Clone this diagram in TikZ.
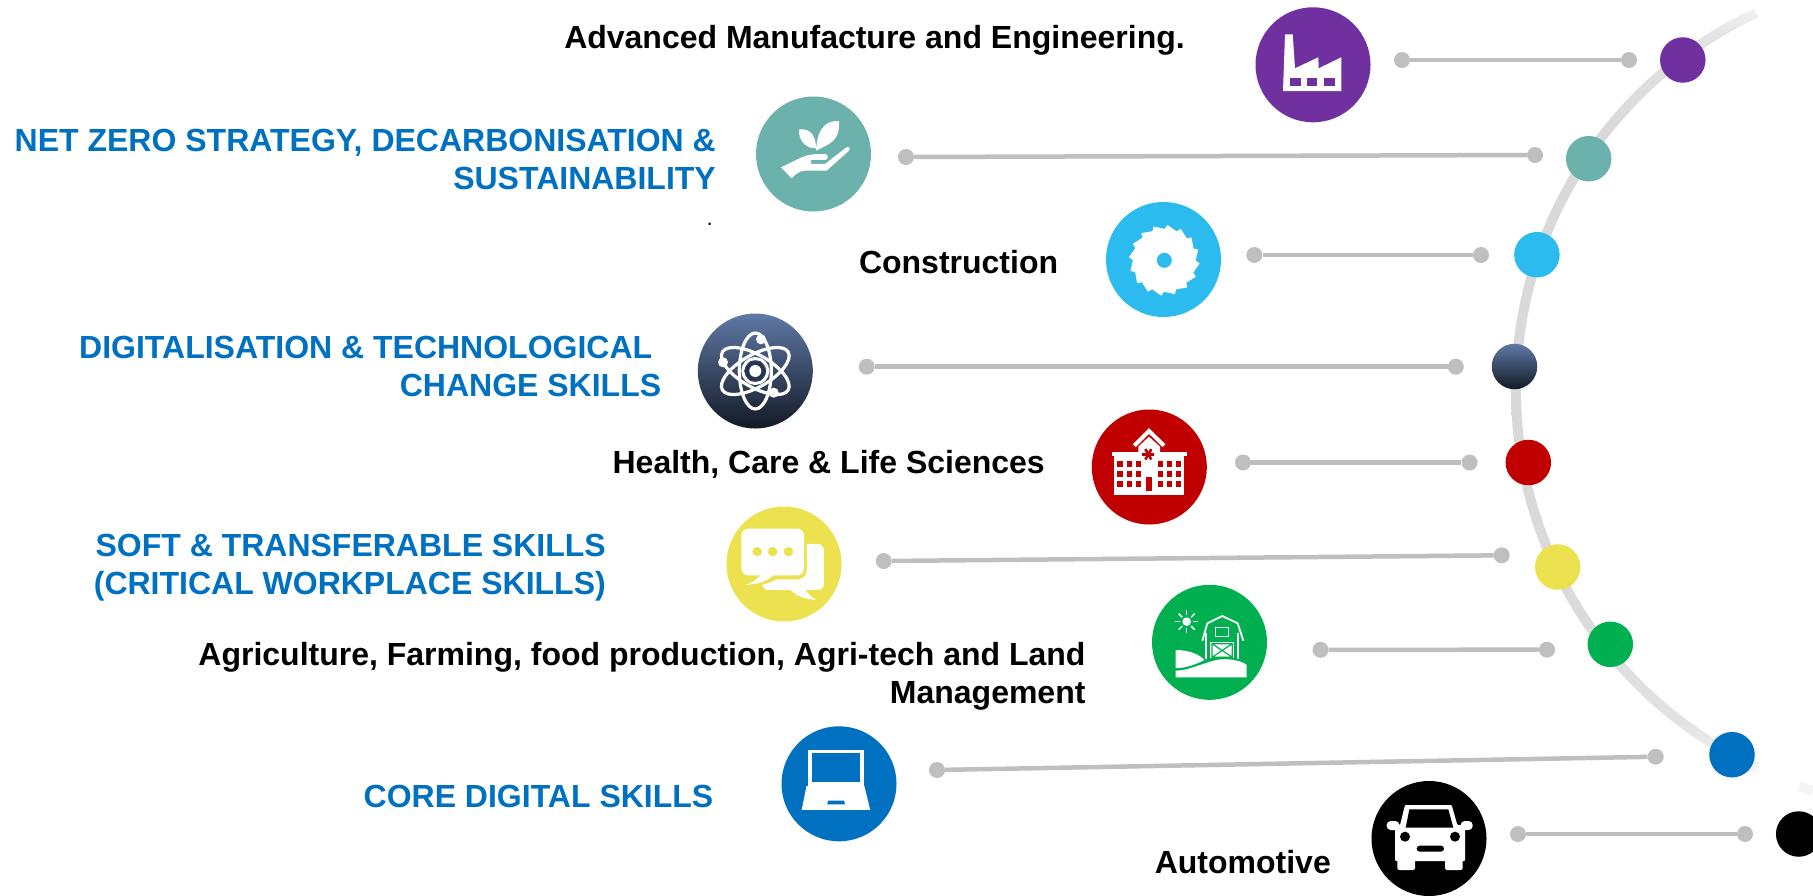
\documentclass[tikz,border=0pt]{standalone}
\usepackage{fontspec}
\setmainfont{Liberation Sans}

\definecolor{iconpurple}{HTML}{7030A0}
\definecolor{iconteal}{HTML}{6CB2AC}
\definecolor{iconsky}{HTML}{2BBBEF}
\definecolor{iconred}{HTML}{C00000}
\definecolor{iconyellow}{HTML}{ECE24F}
\definecolor{icongreen}{HTML}{00B050}
\definecolor{iconblue}{HTML}{0070C0}
\definecolor{navytop}{HTML}{5F79A6}
\definecolor{navymid}{HTML}{27354F}
\definecolor{navylow}{HTML}{131A26}
\definecolor{linkgrey}{HTML}{BFBFBF}

\pgfdeclareverticalshading{trackfade}{100bp}{
  color(0bp)=(white!96!black); color(27.3bp)=(white!96!black); color(30.2bp)=(white!89!black);
  color(36.2bp)=(white!86!black); color(44.6bp)=(white!85!black); color(65bp)=(white!85!black);
  color(71bp)=(white!89!black); color(72.7bp)=(white!95!black); color(100bp)=(white!95!black)}

\tikzset{
  bigdisc/.style={circle,minimum size=115pt,inner sep=0pt},
  trackdot/.style={circle,minimum size=45.5pt,inner sep=0pt},
  linkdot/.style={circle,fill=linkgrey,minimum size=16pt,inner sep=0pt},
  linkline/.style={draw=linkgrey,line width=4.5pt},
  skilltext/.style={anchor=base east,align=right,inner sep=0pt,text=iconblue,font=\fontsize{32}{37.8}\selectfont\bfseries},
  sectortext/.style={skilltext,text=black},
  navyshade/.style={top color=navytop,middle color=navymid,bottom color=navylow}
}

\begin{document}
\begin{tikzpicture}[x=1pt,y=-1pt]
  \useasboundingbox (0,0) rectangle (1813,895);
  \clip (0,0) rectangle (1813,895);

  % track
  \begin{scope}
    \clip (1932,390) -- +(114.8:600) -- +(180:900) -- +(245:600) -- cycle;
    \shade[shading=trackfade,even odd rule] (1932,390) circle (421) (1932,390) circle (411);
  \end{scope}
  \draw[white!96!black,line width=10pt] (1799,786) -- (1813,791);

  % dots on the track
  \node[trackdot,fill=iconpurple] (factorydot) at (1682.8,60) {};
  \node[trackdot,fill=iconteal] (plantdot) at (1588.7,158.7) {};
  \node[trackdot,fill=iconsky] (sawdot) at (1536.9,254.7) {};
  \node[trackdot,navyshade] (atomdot) at (1514.5,366.5) {};
  \node[trackdot,fill=iconred] (hospitaldot) at (1528.3,462.5) {};
  \node[trackdot,fill=iconyellow] (chatdot) at (1557.7,567) {};
  \node[trackdot,fill=icongreen] (barndot) at (1610.3,644.3) {};
  \node[trackdot,fill=iconblue] (laptopdot) at (1732,754.7) {};
  \node[trackdot,fill=black] (cardot) at (1798.7,834) {};

  % links
  \node[linkdot] (factoryL) at (1402,60) {};
  \node[linkdot] (factoryR) at (1629,60) {};
  \draw[linkline] (factoryL) -- (factoryR);
  \node[linkdot] (plantL) at (906,157) {};
  \node[linkdot] (plantR) at (1535,155) {};
  \draw[linkline] (plantL) -- (plantR);
  \node[linkdot] (sawL) at (1254.3,255) {};
  \node[linkdot] (sawR) at (1481,255) {};
  \draw[linkline] (sawL) -- (sawR);
  \node[linkdot] (atomL) at (866.7,366.7) {};
  \node[linkdot] (atomR) at (1455.8,366.7) {};
  \draw[linkline] (atomL) -- (atomR);
  \node[linkdot] (hospitalL) at (1243,462.5) {};
  \node[linkdot] (hospitalR) at (1469.6,462.5) {};
  \draw[linkline] (hospitalL) -- (hospitalR);
  \node[linkdot] (chatL) at (883.7,561) {};
  \node[linkdot] (chatR) at (1501.7,555.3) {};
  \draw[linkline] (chatL) -- (chatR);
  \node[linkdot] (barnL) at (1320.5,649.8) {};
  \node[linkdot] (barnR) at (1547,649.7) {};
  \draw[linkline] (barnL) -- (barnR);
  \node[linkdot] (laptopL) at (937,770) {};
  \node[linkdot] (laptopR) at (1655.7,756.7) {};
  \draw[linkline] (laptopL) -- (laptopR);
  \node[linkdot] (carL) at (1518,834) {};
  \node[linkdot] (carR) at (1745,834) {};
  \draw[linkline] (carL) -- (carR);

  % big discs
  \node[bigdisc,fill=iconpurple] (factory) at (1313,64.8) {};
  \node[bigdisc,fill=iconteal] (plant) at (813.5,154) {};
  \node[bigdisc,fill=iconsky] (saw) at (1163.5,259.5) {};
  \node[bigdisc,navyshade] (atom) at (755.3,371) {};
  \node[bigdisc,fill=iconred] (hospital) at (1149.3,467) {};
  \node[bigdisc,fill=iconyellow] (chat) at (784,564) {};
  \node[bigdisc,fill=icongreen] (barn) at (1209.5,642.3) {};
  \node[bigdisc,fill=iconblue] (laptop) at (839,783.8) {};
  \node[bigdisc,fill=black] (car) at (1429,838.5) {};

  % factory icon
  \fill[white] (1285,34.3) -- (1292.7,34.3) -- (1295,68.3) -- (1318.3,57.3) -- (1318.7,68.3) -- (1341.3,57.3)
    -- (1341.3,91) -- (1283,91) -- cycle;
  \fill[iconpurple] (1290,77.7) rectangle (1300.7,85.7);
  \fill[iconpurple] (1306.7,77.7) rectangle (1317.3,85.7);
  \fill[iconpurple] (1324,77.7) rectangle (1335,85.7);

  % plant icon
  \begin{scope}[shift={(730,80)},scale=0.3333]
    \fill[white] (207,148) .. controls (235,145) and (258,160) .. (258,205) .. controls (225,205) and (205,180) .. cycle;
    \fill[white] (327,123) .. controls (295,122) and (262,135) .. (258,212) .. controls (300,190) and (330,185) .. cycle;
    \fill[white] (153,262) -- (215,232) .. controls (235,222) and (260,222) .. (285,222)
      .. controls (296,222) and (296,240) .. (285,240) -- (243,240) -- (243,252) -- (285,252) -- (348,203)
      .. controls (356,197) and (364,206) .. (356,213) -- (290,272) -- (225,272)
      .. controls (210,272) and (195,283) .. (185,295) -- cycle;
  \end{scope}

  % saw icon
  \begin{scope}[shift={(1164.3,260.3)}]
    \fill[white] (0:31) \foreach \a in {0,22.5,...,337.5} { -- (\a:31) -- (\a+5:35.5) -- (\a+22.5:31.5)} -- cycle;
    \fill[iconsky] (0,0) circle (7.5);
  \end{scope}

  % atom icon
  \begin{scope}[shift={(755.3,371)}]
    \draw[white,line width=3.2pt] (0,0) ellipse (16 and 38);
    \draw[white,line width=3.2pt,rotate=60] (0,0) ellipse (16 and 38);
    \draw[white,line width=3.2pt,rotate=-60] (0,0) ellipse (16 and 38);
    \fill[white] (5.7,-31.7) circle (5);
    \fill[white] (-32.3,-8.7) circle (5);
    \fill[white] (18.4,21.7) circle (5);
    \draw[white,line width=3pt] (0,0) circle (12.5);
    \fill[navymid] (0:11) -- (60:11) -- (120:11) -- (180:11) -- (240:11) -- (300:11) -- cycle;
    \fill[white] (0,0) circle (6);
  \end{scope}

  % hospital icon
  \begin{scope}[shift={(1105,415)},scale=0.3333]
    \fill[white] (20,112) rectangle (245,124);
    \fill[white] (27,124) rectangle (238,240);
    \fill[white] (100,112) -- (100,95) -- (132,65) -- (165,95) -- (165,112) -- cycle;
    \draw[white,line width=4pt] (88,92) -- (132,48) -- (177,92);
    \foreach \a in {0,60,120} {
      \draw[iconred,line width=2.6pt,shift={(130,118)}] (\a:18) -- (\a+180:18);
    }
    \foreach \wx in {37,65,92,158,185,212} {
      \foreach \wy in {137,167,197} {
        \fill[iconred] (\wx,\wy) rectangle (\wx+16,\wy+18);
      }
    }
    \fill[iconred] (122,185) rectangle (142,228);
  \end{scope}

  % chat icon
  \begin{scope}[shift={(680,300)},xscale=0.3444,yscale=0.3333]
    \fill[white,rounded corners=7pt] (178,686) rectangle (360,826);
    \fill[white] (215,820) -- (232,826) .. controls (222,842) and (205,850) .. (190,855) .. controls (225,852) and (255,845) .. (278,820) -- cycle;
    \fill[white] (368,732) -- (398,732) .. controls (410,732) and (418,740) .. (418,752) -- (418,850)
      .. controls (418,862) and (410,870) .. (398,870) -- (365,870) .. controls (370,880) and (380,890) .. (395,900)
      .. controls (365,897) and (340,890) .. (320,870) -- (250,870) .. controls (245,866) and (240,860) .. (238,855)
      .. controls (255,850) and (268,845) .. (280,838) -- (345,838) .. controls (360,836) and (368,825) .. (368,810) -- cycle;
    \fill[iconyellow] (224,755) circle (14);
    \fill[iconyellow] (269,755) circle (14);
    \fill[iconyellow] (315,755) circle (14);
  \end{scope}

  % barn icon
  \begin{scope}[shift={(1165,600)},scale=0.3333]
    \fill[white] (65,65) circle (13);
    \foreach \a in {0,45,...,315} {
      \draw[white,line width=1.5pt] (65,65) ++(\a:19) -- ++(\a:15);
    }
    \draw[white,line width=1.8pt] (112,122) -- (127,70) -- (172,48) -- (218,70) -- (235,122);
    \draw[white,line width=1.8pt] (124,100) -- (124,178) (220,100) -- (220,178);
    \draw[white,line width=1.5pt] (152,83) rectangle (190,110);
    \fill[white] (135,125) rectangle (208,180);
    \draw[icongreen,line width=1.2pt] (141,131) rectangle (202,172) (141,131) -- (202,172) (202,131) -- (141,172);
    \fill[white] (32,150) .. controls (75,150) and (105,165) .. (118,180) .. controls (95,195) and (70,205) .. (32,205) -- cycle;
    \fill[icongreen] (32,205) .. controls (70,205) and (110,185) .. (125,178) .. controls (150,168) and (220,165) .. (245,190) -- (245,200) -- (32,215) -- cycle;
    \fill[white] (32,212) .. controls (75,212) and (120,185) .. (165,178) .. controls (200,175) and (235,185) .. (245,195) -- (245,232) -- (32,232) -- cycle;
  \end{scope}

  % laptop icon
  \begin{scope}[shift={(760,570)},xscale=0.3444,yscale=0.3333]
    \fill[white] (139,540) rectangle (302,648);
    \fill[iconblue] (150,548) rectangle (291,637);
    \fill[white] (135,648) -- (303,648) -- (320,720) -- (121,720) -- cycle;
    \fill[iconblue] (198,692) -- (244,692) -- (247,703) -- (195,703) -- cycle;
  \end{scope}

  % car icon
  \begin{scope}[shift={(1370,775)},scale=0.3333]
    \fill[white,rounded corners=1pt] (105,90) -- (245,90) -- (262,150) -- (285,150) -- (285,258) -- (75,258) -- (75,150) -- (90,150) -- cycle;
    \fill[white,rounded corners=4pt] (50,138) rectangle (88,165);
    \fill[white,rounded corners=4pt] (272,138) rectangle (308,165);
    \fill[white,rounded corners=2pt] (82,250) rectangle (135,285);
    \fill[white,rounded corners=2pt] (225,250) rectangle (278,285);
    \fill[black] (118,103) -- (235,103) -- (250,158) -- (107,158) -- cycle;
    \fill[black] (105,185) circle (15);
    \fill[black] (255,185) circle (15);
    \fill[black,rounded corners=3pt] (140,212) rectangle (222,230);
  \end{scope}

  % texts
  \node[sectortext] (factorytext) at (1185,48.5) {Advanced Manufacture and Engineering.};
  \node[skilltext] (planttext) at (716,189.3) {NET ZERO STRATEGY, DECARBONISATION \&\\SUSTAINABILITY};
  \node[anchor=base east,inner sep=0pt,font=\fontsize{22}{24}\selectfont] (plantstop) at (713,225) {.};
  \node[sectortext] (sawtext) at (1058.3,273) {Construction};
  \node[skilltext] (atomtext) at (661.4,396.6) {DIGITALISATION \& TECHNOLOGICAL\rule{9pt}{0pt}\\CHANGE SKILLS};
  \node[sectortext] (hospitaltext) at (1045,473.3) {Health, Care \& Life Sciences};
  \node[skilltext] (chattext) at (606,594) {SOFT \& TRANSFERABLE SKILLS\\(CRITICAL WORKPLACE SKILLS)};
  \node[sectortext] (barntext) at (1085.7,703.3) {Agriculture, Farming, food production, Agri-tech and Land\\Management};
  \node[skilltext] (laptoptext) at (713.5,807) {CORE DIGITAL SKILLS};
  \node[sectortext] (cartext) at (1331,873.3) {Automotive};
\end{tikzpicture}
\end{document}
